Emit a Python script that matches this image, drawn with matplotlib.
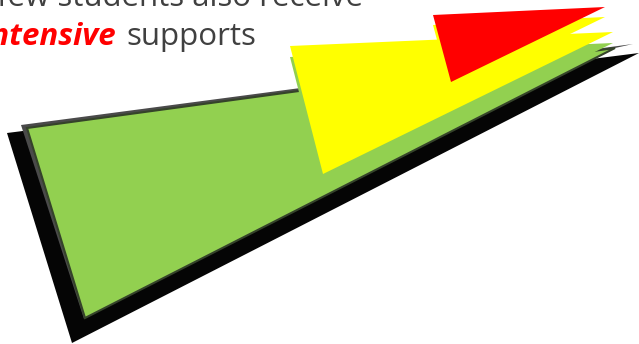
import matplotlib.pyplot as plt
from matplotlib.patches import Polygon

# shape vertices in picture pixels (x right, y down)
shadow_black = [(7, 133), (639, 53), (72, 343)]
rim_gray = [(21, 125), (633, 44), (588, 54), (84, 319)]
green_main = [(27, 128), (615, 48), (85, 318)]
green_back = [(290, 57), (613, 43), (323, 186)]
yellow_main = [(290, 46), (613, 32), (323, 174)]
yellow_back = [(433, 25), (605, 17), (451, 92)]
red_top = [(433, 15), (605, 7), (451, 82)]

line1 = "few students also receive"
word_red = "intensive"
word_gray = "supports"

fig = plt.figure(figsize=(6.39, 3.44), dpi=100)
ax = fig.add_axes([0, 0, 1, 1])
ax.set_xlim(0, 639)
ax.set_ylim(344, 0)
ax.axis('off')

# back to front
ax.add_patch(Polygon(shadow_black, closed=True, facecolor='#050505', edgecolor='none'))
ax.add_patch(Polygon(rim_gray, closed=True, facecolor='#4a4a4a', edgecolor='none'))
ax.add_patch(Polygon(green_main, closed=True, facecolor='#92D050', edgecolor='#35432a', linewidth=1.5))
ax.add_patch(Polygon(green_back, closed=True, facecolor='#92D050', edgecolor='none'))
ax.add_patch(Polygon(yellow_main, closed=True, facecolor='#FFFF00', edgecolor='none'))
ax.add_patch(Polygon(yellow_back, closed=True, facecolor='#FFFF00', edgecolor='none'))
ax.add_patch(Polygon(red_top, closed=True, facecolor='#FF0000', edgecolor='none'))

# text
ax.text(363, 6, line1, ha='right', va='baseline', fontsize=22.5,
        family='Open Sans', color='#404040')
ax.text(116, 45, word_red, ha='right', va='baseline', fontsize=22.5,
        family='Open Sans', fontweight='bold', fontstyle='italic', color='#FF0000')
ax.text(126, 45, word_gray, ha='left', va='baseline', fontsize=22.5,
        family='Open Sans', color='#404040')

fig.savefig('out.png', dpi=100)
